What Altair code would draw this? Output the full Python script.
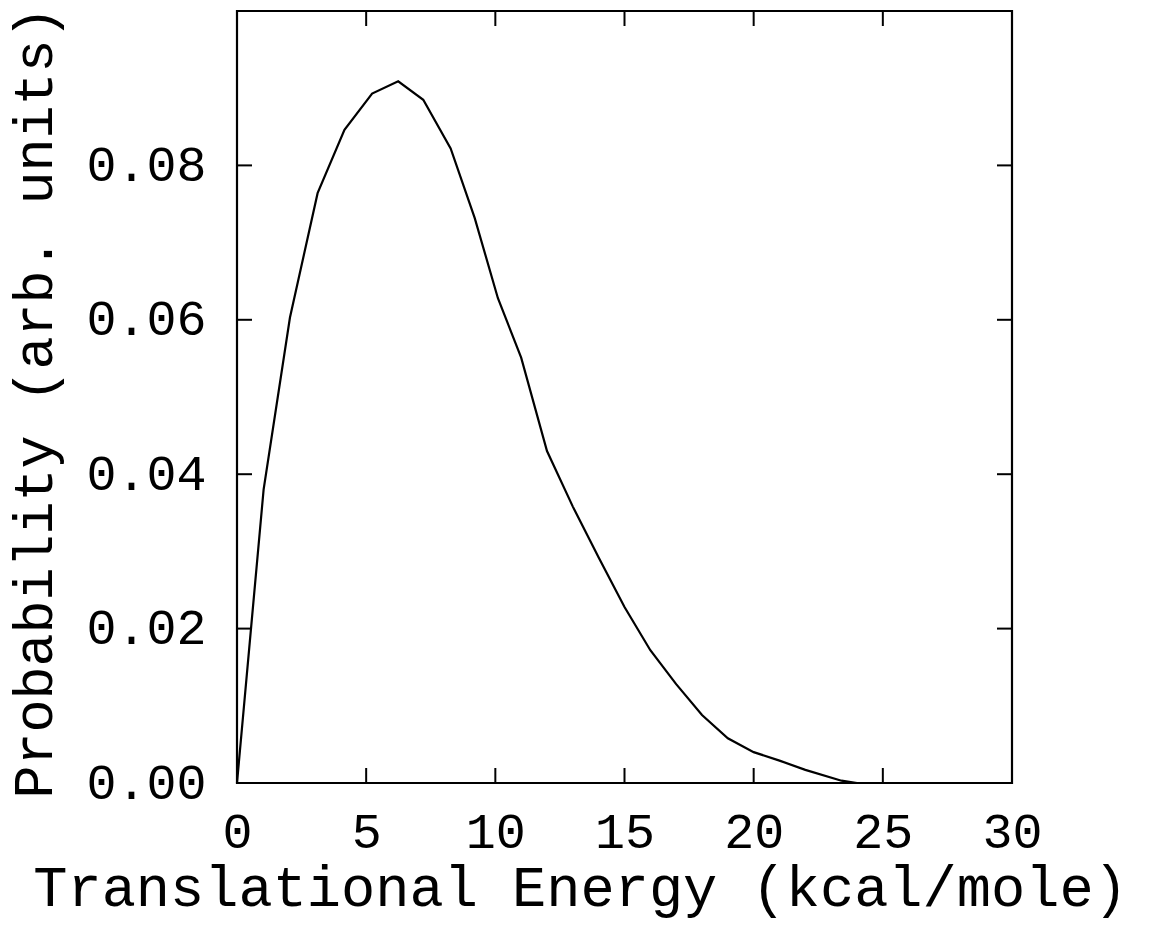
import altair as alt
import pandas as pd

energy = [0, 1.03, 2.05, 3.12, 4.16, 5.23, 6.24, 7.21, 8.27, 9.2, 10.1, 11.0, 12.0,
          13.0, 14.0, 15.0, 16.0, 17.0, 18.0, 19.0, 20.0, 21.0, 22.0, 23.4, 24.0]
prob = [0.0, 0.038, 0.0603, 0.0764, 0.0846, 0.0893, 0.0909, 0.0885, 0.0822, 0.0732,
        0.0628, 0.0551, 0.043, 0.0358, 0.0292, 0.0228, 0.0172, 0.0128, 0.0088, 0.0058,
        0.0040, 0.0029, 0.0017, 0.0003, 0.0]

x_ticks = [0, 5, 10, 15, 20, 25, 30]
y_ticks = [0.0, 0.02, 0.04, 0.06, 0.08]
x_inner = [5, 10, 15, 20, 25]
y_inner = [0.02, 0.04, 0.06, 0.08]

W, H = 775, 772
FONT = "Liberation Mono"
TL = 15

df = pd.DataFrame({"e": energy, "p": prob})
xs = alt.Scale(domain=[0, 30], nice=False)
ys = alt.Scale(domain=[0, 0.1], nice=False)

line = alt.Chart(df).mark_line(color="black", strokeWidth=2.2).encode(
    x=alt.X("e:Q", scale=xs,
            axis=alt.Axis(values=x_ticks, ticks=False, domain=False, grid=False,
                          labelFont=FONT, labelFontSize=50, labelColor="black",
                          labelPadding=24, labelFlush=False,
                          title="Translational Energy (kcal/mole)",
                          titleFont=FONT, titleFontSize=57, titleFontWeight="normal",
                          titleColor="black", titleX=343, titleY=122,
                          titleBaseline="alphabetic")),
    y=alt.Y("p:Q", scale=ys,
            axis=alt.Axis(values=y_ticks, ticks=False, domain=False, grid=False,
                          format=".2f", labelFont=FONT, labelFontSize=50,
                          labelColor="black", labelPadding=31, labelFlush=False,
                          title="Probability (arb. units)",
                          titleFont=FONT, titleFontSize=55, titleFontWeight="normal",
                          titleColor="black", titleX=-186, titleY=391,
                          titleAngle=-90, titleBaseline="alphabetic")),
)

xt = pd.DataFrame({"e": x_inner})
yt = pd.DataFrame({"p": y_inner})

tick_bottom = alt.Chart(xt).mark_rule(color="black", strokeWidth=2).encode(
    x=alt.X("e:Q", scale=xs), y=alt.value(H), y2=alt.value(H - TL))
tick_top = alt.Chart(xt).mark_rule(color="black", strokeWidth=2).encode(
    x=alt.X("e:Q", scale=xs), y=alt.value(0), y2=alt.value(TL))
tick_left = alt.Chart(yt).mark_rule(color="black", strokeWidth=2).encode(
    y=alt.Y("p:Q", scale=ys), x=alt.value(0), x2=alt.value(TL))
tick_right = alt.Chart(yt).mark_rule(color="black", strokeWidth=2).encode(
    y=alt.Y("p:Q", scale=ys), x=alt.value(W), x2=alt.value(W - TL))

chart = alt.layer(line, tick_bottom, tick_top, tick_left, tick_right).properties(
    width=W, height=H,
    autosize=alt.AutoSizeParams(type="none"),
    padding={"left": 237, "top": 11, "right": 149, "bottom": 169},
    background="white",
).configure_view(stroke="black", strokeWidth=2.2)

chart.save("out.html", embed_options={"renderer": "svg", "actions": False})
